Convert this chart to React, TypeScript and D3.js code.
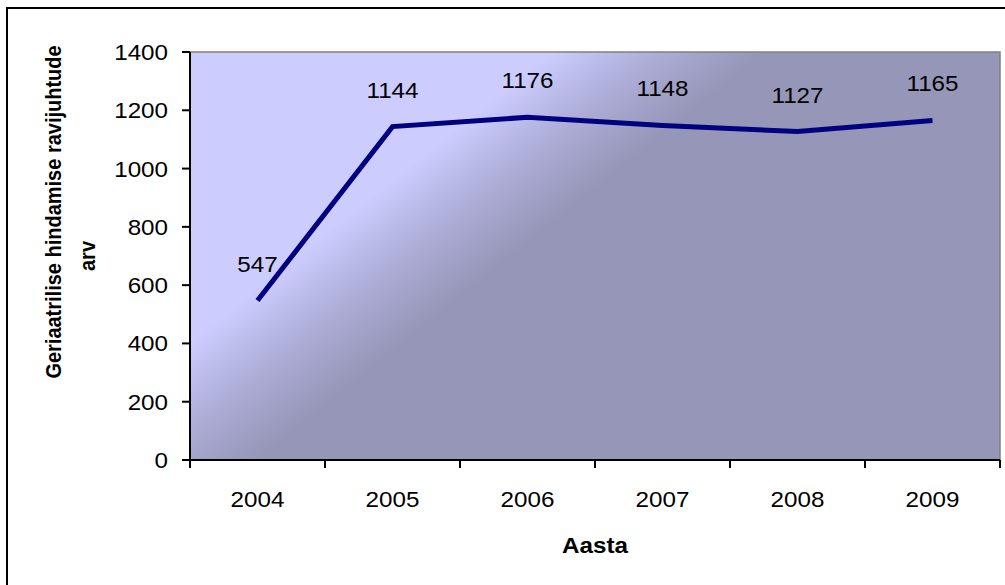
import React from "react";
import * as d3 from "d3";

const years = ["2004", "2005", "2006", "2007", "2008", "2009"];
const values = [547, 1144, 1176, 1148, 1127, 1165];
const yTicks = [0, 200, 400, 600, 800, 1000, 1200, 1400];
const yTitleLines = ["Geriaatrilise hindamise ravijuhtude", "arv"];
const xTitle = "Aasta";

const W = 1005;
const H = 585;
const plot = { left: 190, right: 1000, top: 52, bottom: 460 };
const FONT = "'Liberation Sans', Arial, sans-serif";
const SX = 1.1;

export default function App() {
  const x = d3.scaleBand<string>().domain(years).range([plot.left, plot.right]).padding(0);
  const y = d3.scaleLinear().domain([0, 1400]).range([plot.bottom, plot.top]);
  const line = d3
    .line<number>()
    .x((_, i) => (x(years[i]) as number) + x.bandwidth() / 2)
    .y((d) => y(d));
  const boundaries = [...years.map((yr) => x(yr) as number), plot.right];

  const stretched = (tx: number, ty: number) => `translate(${tx},${ty}) scale(${SX},1)`;
  const gL = 360;
  const gdx = 0.626 * gL;
  const gdy = 0.78 * gL;

  return (
    <svg
      width={W}
      height={H}
      style={{ position: "absolute", left: 0, top: 0, background: "#fff" }}
      fontFamily={FONT}
    >
      <defs>
        <linearGradient
          id="bg"
          gradientUnits="userSpaceOnUse"
          x1={plot.left}
          y1={plot.top}
          x2={plot.left + gdx}
          y2={plot.top + gdy}
        >
          <stop offset="0" stopColor="#ccccff" />
          <stop offset="0.63" stopColor="#ccccff" />
          <stop offset="0.82" stopColor="#acacd6" />
          <stop offset="1" stopColor="#9696b8" />
        </linearGradient>
      </defs>

      {/* outer chart border */}
      <rect x={7} y={8} width={1010} height={600} fill="#fff" stroke="#000" strokeWidth={2} />

      {/* plot area */}
      <rect
        x={plot.left}
        y={plot.top}
        width={plot.right - plot.left}
        height={plot.bottom - plot.top}
        fill="url(#bg)"
      />
      <path
        d={`M${plot.left},${plot.top}H${plot.right}V${plot.bottom}`}
        fill="none"
        stroke="#808080"
        strokeWidth={1.5}
      />

      {/* y axis */}
      <line x1={plot.left} x2={plot.left} y1={plot.top} y2={plot.bottom} stroke="#000" strokeWidth={2} />
      {yTicks.map((t) => (
        <g key={t}>
          <line x1={plot.left - 8} x2={plot.left} y1={y(t)} y2={y(t)} stroke="#000" strokeWidth={2} />
          <text
            transform={stretched(168, y(t) + 8)}
            textAnchor="end"
            fontSize={22}
            fill="#000"
          >
            {t}
          </text>
        </g>
      ))}

      {/* x axis */}
      <line x1={plot.left} x2={plot.right} y1={plot.bottom} y2={plot.bottom} stroke="#000" strokeWidth={2} />
      {boundaries.map((b, i) => (
        <line key={i} x1={b} x2={b} y1={plot.bottom} y2={plot.bottom + 8} stroke="#000" strokeWidth={2} />
      ))}
      {years.map((yr) => (
        <text
          key={yr}
          transform={stretched((x(yr) as number) + x.bandwidth() / 2, 507)}
          textAnchor="middle"
          fontSize={22}
          fill="#000"
        >
          {yr}
        </text>
      ))}

      {/* series line */}
      <path d={line(values) || ""} fill="none" stroke="#000080" strokeWidth={5} strokeLinejoin="miter" />

      {/* data labels */}
      {values.map((v, i) => (
        <text
          key={i}
          transform={stretched((x(years[i]) as number) + x.bandwidth() / 2, y(v) - 29)}
          textAnchor="middle"
          fontSize={22}
          fill="#000"
        >
          {v}
        </text>
      ))}

      {/* axis titles */}
      <text
        transform={stretched((plot.left + plot.right) / 2, 553)}
        textAnchor="middle"
        fontSize={22}
        fontWeight="bold"
        fill="#000"
      >
        {xTitle}
      </text>
      <text
        transform={`translate(61,212) scale(1.12,1) rotate(-90)`}
        textAnchor="middle"
        fontSize={20}
        fontWeight="bold"
        fill="#000"
      >
        {yTitleLines[0]}
      </text>
      <text
        transform={`translate(95,256) scale(1.12,1) rotate(-90)`}
        textAnchor="middle"
        fontSize={20}
        fontWeight="bold"
        fill="#000"
      >
        {yTitleLines[1]}
      </text>
    </svg>
  );
}
